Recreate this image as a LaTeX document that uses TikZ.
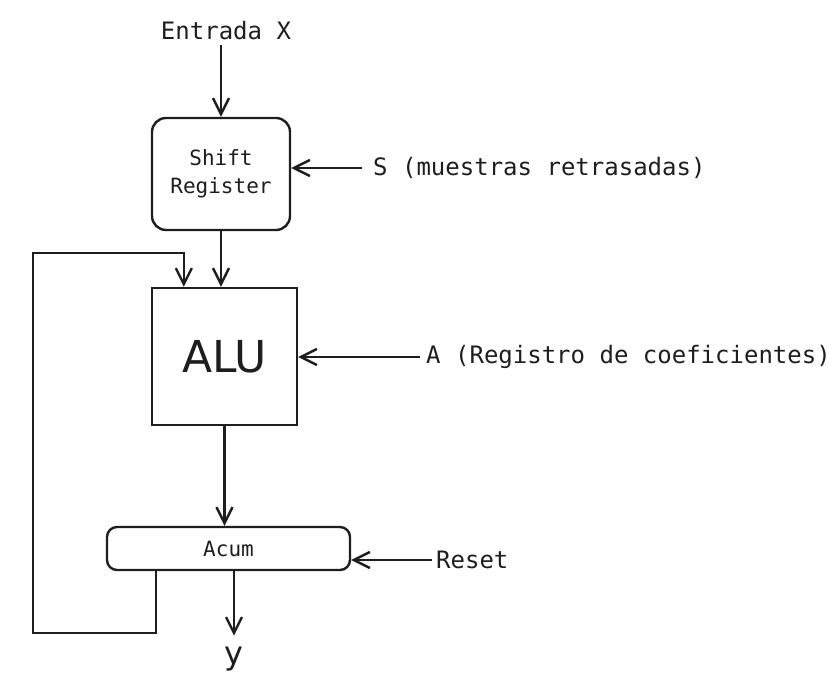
\documentclass[tikz,border=0pt]{standalone}
\usepackage{fontspec}
\setmainfont{DejaVu Sans Mono}
\newfontfamily\handfont{DejaVu Sans}
\usetikzlibrary{arrows.meta, positioning, calc}
\definecolor{inkgray}{RGB}{30,30,30}

\begin{document}
\begin{tikzpicture}[x=0.5pt, y=-0.5pt, line width=1.2pt, draw=inkgray, text=inkgray,
    arr/.style={draw=inkgray, -{Straight Barb[length=8pt, width=8pt, line width=1.2pt]}},
    lbl/.style={font=\fontsize{12}{14}\selectfont, inner sep=0pt},
    blockbox/.style={draw=inkgray, align=center, font=\fontsize{10.5}{14}\selectfont}]
  \useasboundingbox (0,0) rectangle (829,694);

  % blocks
  \node[blockbox, rounded corners=7pt, minimum width=69pt, minimum height=56pt]
    (shift) at (221,174) {Shift\\Register};
  \node[blockbox, minimum width=72.5pt, minimum height=68.5pt,
    font=\handfont\fontsize{22}{24}\selectfont] (alu) at (224.5,356.5) {ALU};
  \node[blockbox, rounded corners=5pt, minimum width=121.5pt, minimum height=21.5pt]
    (acum) at (228.5,548.5) {Acum};

  % labels
  \node[lbl] (entrada) at (226,31) {Entrada X};
  \node[lbl, anchor=west] (sreg) at (372,168) {S (muestras retrasadas)};
  \node[lbl, anchor=west] (areg) at (425,357) {A (Registro de coeficientes)};
  \node[lbl, anchor=west] (reset) at (435,560) {Reset};
  \node[lbl, font=\handfont\fontsize{16}{16}\selectfont] (yout) at (234,659) {y};
  \coordinate (fbL) at (33,633);
  \coordinate (fbT) at (33,253);

  % connections
  \draw[arr] (shift.north |- 0,45) -- (shift.north);
  \draw[arr] ([xshift=-5pt]sreg.west) -- (sreg.west -| shift.east);
  \draw[arr] (shift.south) -- (shift.south |- alu.north);
  \draw[arr] ([xshift=-2.5pt]areg.west) -- (areg.west -| alu.east);
  \draw[arr] (alu.south) -- (alu.south |- acum.north);
  \draw[arr] ([xshift=-1.5pt]reset.west) -- (reset.west -| acum.east);
  \draw[arr] (yout.north |- acum.south) -- ([yshift=5pt]yout.north);
  \draw[arr] ([xshift=25pt]acum.south west) |- (fbL) -- (fbT)
    -| ([xshift=16.5pt]alu.north west);
\end{tikzpicture}
\end{document}
